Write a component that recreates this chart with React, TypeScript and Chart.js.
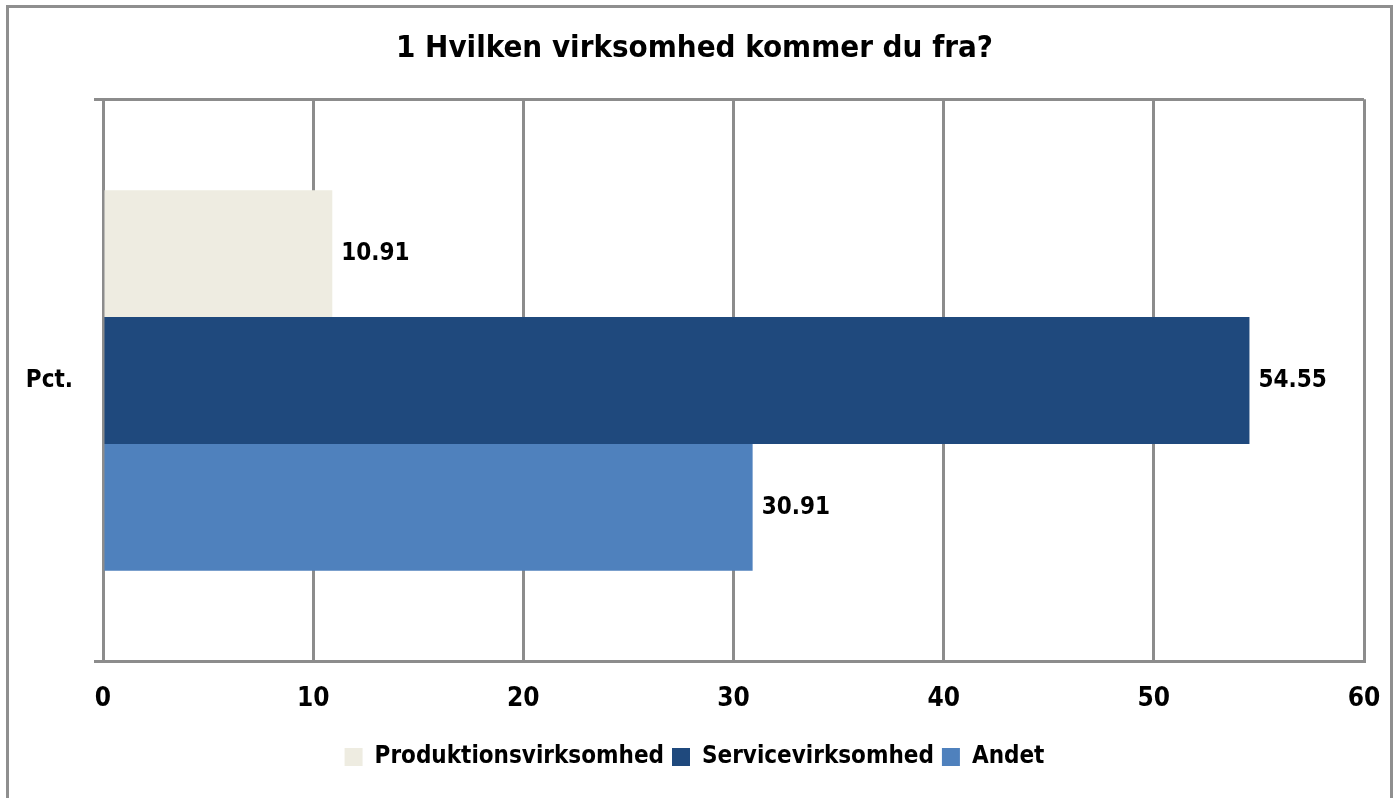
import React, { useEffect, useRef } from "react";
import { Chart, registerables } from "chart.js";

Chart.register(...registerables);

const categories = ["Pct."];
const seriesNames = ["Produktionsvirksomhed", "Servicevirksomhed", "Andet"];
const produktionValues = [10.91];
const serviceValues = [54.55];
const andetValues = [30.91];
const seriesColors = ["#EEECE1", "#1F497D", "#4F81BD"];
const xMin = 0;
const xMax = 60;
const xStep = 10;

const FONT = "'DejaVu Sans Condensed', 'Liberation Sans Narrow', 'Liberation Sans', sans-serif";
const GRID = "#8c8c8c";

const dataLabels = {
  id: "dataLabels",
  afterDatasetsDraw(chart: any) {
    const ctx = chart.ctx;
    ctx.save();
    ctx.font = `bold 24px ${FONT}`;
    ctx.fillStyle = "#000";
    ctx.textAlign = "left";
    ctx.textBaseline = "middle";
    chart.data.datasets.forEach((ds: any, i: number) => {
      const meta = chart.getDatasetMeta(i);
      meta.data.forEach((el: any, j: number) => {
        const v = ds.data[j] as number;
        ctx.fillText(v.toFixed(2), el.x + 9, el.y);
      });
    });
    ctx.restore();
  },
};

export default function App() {
  const ref = useRef<HTMLCanvasElement>(null);
  useEffect(() => {
    document.body.style.margin = "0";
    const allValues = [produktionValues, serviceValues, andetValues];
    const chart = new Chart(ref.current!, {
      type: "bar",
      data: {
        labels: categories,
        datasets: seriesNames.map((name, i) => ({
          label: name,
          data: allValues[i],
          backgroundColor: seriesColors[i],
          borderWidth: 0,
          barPercentage: 1,
          categoryPercentage: 0.676,
        })),
      },
      options: {
        indexAxis: "y",
        animation: false,
        responsive: false,
        maintainAspectRatio: false,
        layout: { padding: { left: 25, right: 33, top: 0, bottom: 19 } },
        plugins: {
          title: {
            display: true,
            text: "1 Hvilken virksomhed kommer du fra?",
            color: "#000",
            font: { family: FONT, size: 31, weight: "bold" },
            padding: { top: 30, bottom: 32 },
          },
          legend: {
            position: "bottom",
            labels: {
              color: "#000",
              font: { family: FONT, size: 24, weight: "bold" },
              boxWidth: 18,
              boxHeight: 18,
              padding: 8,
            },
          },
          tooltip: { enabled: false },
        },
        scales: {
          x: {
            min: xMin,
            max: xMax,
            ticks: {
              stepSize: xStep,
              color: "#000",
              font: { family: FONT, size: 26, weight: "bold" },
              padding: 22,
            },
            grid: { color: GRID, lineWidth: 3, drawTicks: false },
            border: { color: GRID, width: 3 },
            afterFit: (scale: any) => {
              scale.paddingRight = 0;
              scale.paddingLeft = 0;
            },
          },
          y: {
            ticks: {
              color: "#000",
              font: { family: FONT, size: 24, weight: "bold" },
              padding: 21,
            },
            grid: { color: GRID, lineWidth: 3, tickLength: 9, offset: true },
            border: { color: GRID, width: 3 },
            afterFit: (scale: any) => {
              scale.width = 78;
            },
          },
        },
      },
      plugins: [dataLabels],
    });
    return () => chart.destroy();
  }, []);

  return (
    <div style={{ position: "fixed", left: 0, top: 0, width: 1397, height: 798, overflow: "hidden", background: "#fff" }}>
      <div
        style={{
          position: "absolute",
          left: 6,
          top: 5,
          width: 1387,
          height: 840,
          border: "3px solid #8f8f8f",
          boxSizing: "border-box",
        }}
      />
      <canvas ref={ref} width={1397} height={798} style={{ position: "absolute", left: 0, top: 0 }} />
    </div>
  );
}
